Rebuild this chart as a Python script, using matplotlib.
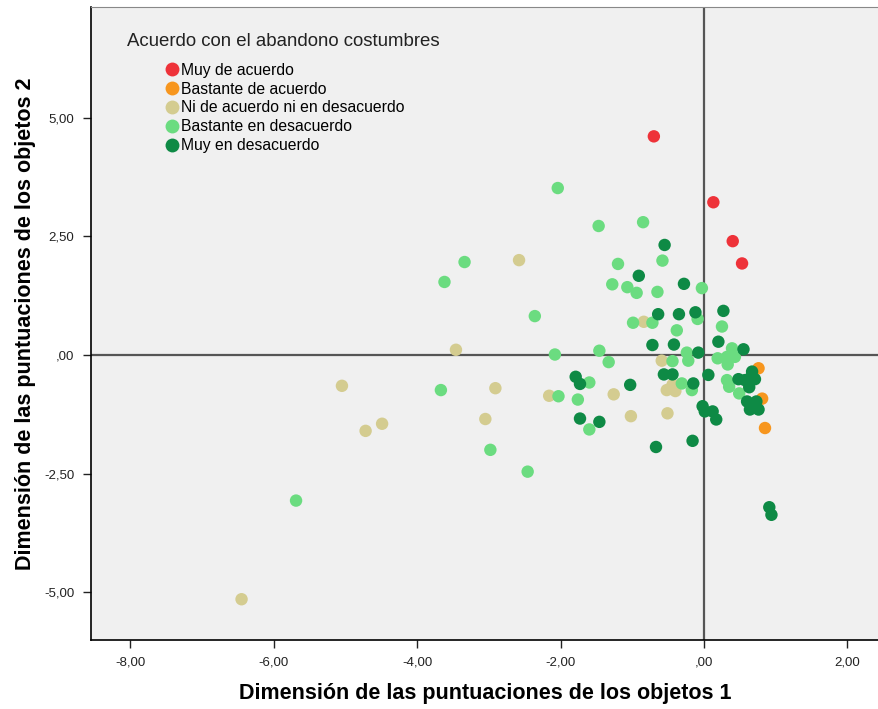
import numpy as np
import matplotlib
matplotlib.use("Agg")
import matplotlib.pyplot as plt
from matplotlib.lines import Line2D

plt.rcParams['font.family'] = ['Liberation Sans', 'DejaVu Sans']

categorias = ["Muy de acuerdo", "Bastante de acuerdo", "Ni de acuerdo ni en desacuerdo",
              "Bastante en desacuerdo", "Muy en desacuerdo"]
colores = ["#EE3239", "#F7961E", "#D4CC90", "#6BDC80", "#0E8A45"]

# puntuaciones (dim1, dim2) por categoria
muy_acuerdo_x = [-0.70, 0.13, 0.40, 0.53]
muy_acuerdo_y = [4.61, 3.22, 2.40, 1.93]

bastante_acuerdo_x = [0.76, 0.81, 0.85]
bastante_acuerdo_y = [-0.28, -0.92, -1.54]

ni_x = [-2.58, -3.46, -5.05, -2.91, -2.16, -4.72, -4.49, -3.05, -6.45,
        -0.84, -0.59, -0.44, -0.52, -0.40, -1.26, -1.02, -0.51]
ni_y = [2.00, 0.11, -0.65, -0.70, -0.86, -1.60, -1.45, -1.35, -5.15,
        0.70, -0.12, -0.63, -0.74, -0.76, -0.83, -1.29, -1.23]

bastante_des_x = [-2.04, -1.47, -0.85, -0.58, -1.20, -3.34, -3.62, -1.28, -1.07, -0.94,
                  -0.65, -0.03, -2.36, -0.99, -0.72, -0.09, 0.25, -0.38, -2.08, -1.46,
                  -1.33, -0.24, -0.22, -0.44, 0.39, 0.19, 0.32, 0.43, 0.33, 0.32,
                  0.35, 0.49, -0.31, -0.17, -3.67, -1.60, -2.03, -1.76, -1.60, -2.98,
                  -2.46, -5.69]
bastante_des_y = [3.52, 2.72, 2.80, 1.99, 1.92, 1.96, 1.54, 1.49, 1.43, 1.31,
                  1.33, 1.41, 0.82, 0.68, 0.68, 0.76, 0.60, 0.52, 0.01, 0.09,
                  -0.15, 0.05, -0.12, -0.13, 0.14, -0.07, -0.04, -0.04, -0.20, -0.53,
                  -0.67, -0.81, -0.60, -0.74, -0.74, -0.58, -0.87, -0.94, -1.57, -2.00,
                  -2.46, -3.07]

muy_des_x = [-0.55, -0.91, -0.28, -0.64, -0.35, -0.12, 0.27, 0.20, -0.72, -0.42,
             -0.08, 0.55, 0.67, 0.64, 0.71, 0.48, 0.57, 0.63, 0.06, -0.56,
             -0.44, -0.15, 0.60, 0.73, 0.64, 0.76, -0.02, 0.01, 0.12, 0.17,
             -1.79, -1.73, -1.03, -1.73, -1.46, -0.67, -0.16, 0.91, 0.94]
muy_des_y = [2.32, 1.67, 1.50, 0.86, 0.86, 0.90, 0.93, 0.28, 0.21, 0.22,
             0.05, 0.12, -0.35, -0.49, -0.51, -0.51, -0.53, -0.68, -0.42, -0.41,
             -0.41, -0.60, -0.98, -0.98, -1.15, -1.15, -1.08, -1.19, -1.19, -1.36,
             -0.46, -0.61, -0.63, -1.34, -1.41, -1.94, -1.81, -3.21, -3.37]

series = [(muy_acuerdo_x, muy_acuerdo_y), (bastante_acuerdo_x, bastante_acuerdo_y),
          (ni_x, ni_y), (bastante_des_x, bastante_des_y), (muy_des_x, muy_des_y)]

xticks = [-8, -6, -4, -2, 0, 2]
yticks = [-5, -2.5, 0, 2.5, 5]


def fmt(v):
    s = f"{v:.2f}".replace(".", ",")
    if s == "0,00":
        s = ",00"
    return s


fig = plt.figure(figsize=(8.79, 7.09), dpi=100)
ax = fig.add_axes([0.1035, 0.0973, 0.8965, 0.893])
ax.set_facecolor("#F0F0F0")

ax.axhline(0, color="#555555", lw=1.6, zorder=1)
ax.axvline(0, color="#555555", lw=1.6, zorder=1)

for (xs, ys), c in zip(series, colores):
    ax.scatter(xs, ys, s=80, color=c, edgecolors="none", zorder=3)

ax.set_xlim(-8.55, 2.44)
ax.set_ylim(-6.01, 7.34)
ax.set_xticks(xticks)
ax.set_xticklabels([fmt(v) for v in xticks], fontsize=9.5, color="#222222")
ax.set_yticks(yticks)
ax.set_yticklabels([fmt(v) for v in yticks], fontsize=9.5, color="#222222")
ax.tick_params(direction="out", length=6, width=1, colors="#222222", pad=6)

ax.spines["right"].set_visible(False)
ax.spines["top"].set_color("#888888")
ax.spines["left"].set_linewidth(1.2)
ax.spines["bottom"].set_linewidth(1.2)

ax.set_xlabel("Dimensión de las puntuaciones de los objetos 1", fontsize=15.5,
              fontweight="bold", labelpad=10)
ax.set_ylabel("Dimensión de las puntuaciones de los objetos 2", fontsize=15.5,
              fontweight="bold", labelpad=6)

# leyenda
ax.text(0.0457, 0.946, "Acuerdo con el abandono costumbres", transform=ax.transAxes,
        fontsize=13.4, color="#222222", va="center", ha="left")
handles = [Line2D([], [], marker="o", ls="none", markersize=10, color=c,
                  markeredgewidth=0) for c in colores]
leg = ax.legend(handles, categorias, loc="upper left", bbox_to_anchor=(0.0945, 0.912),
                frameon=False, fontsize=11.3, handlelength=0.8, handletextpad=0.2,
                borderpad=0, borderaxespad=0, labelspacing=0.25)

fig.savefig("out.png", dpi=100)
